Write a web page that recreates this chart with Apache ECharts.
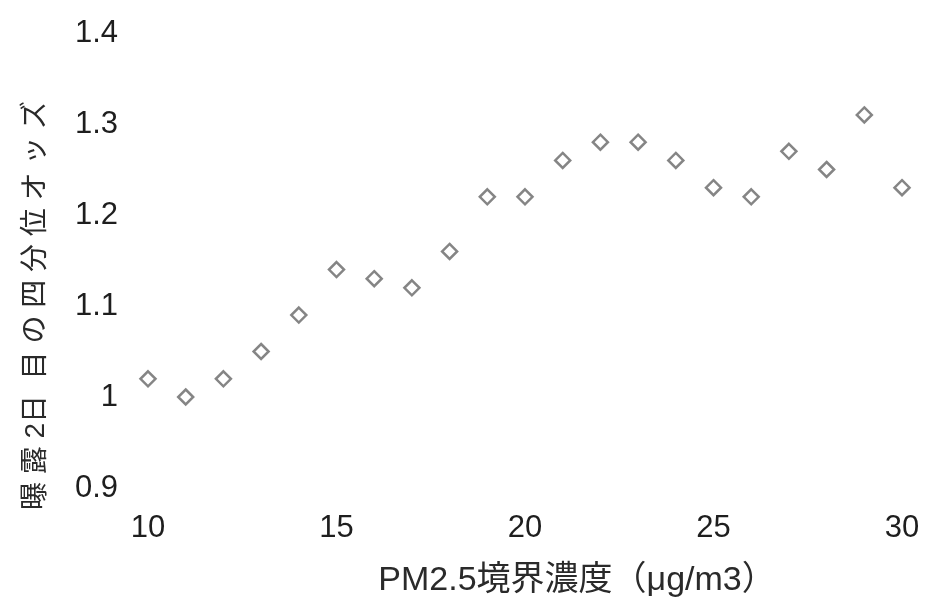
<!DOCTYPE html>
<html><head><meta charset="utf-8">
<script src="https://cdn.jsdelivr.net/npm/echarts@6/dist/echarts.min.js"></script>
<style>html,body{margin:0;padding:0;background:#fff}#c{width:925px;height:605px}</style>
</head><body><div id="c"></div>
<script>
const xValues = [10,11,12,13,14,15,16,17,18,19,20,21,22,23,24,25,26,27,28,29,30];
const oddsValues = [1.02,1.00,1.02,1.05,1.09,1.14,1.13,1.12,1.16,1.22,1.22,1.26,1.28,1.28,1.26,1.23,1.22,1.27,1.25,1.31,1.23];
const xTicks = [10,15,20,25,30];
const yTicks = [0.9,1,1.1,1.2,1.3,1.4];
const xName = 'PM2.5境界濃度（μg/m3）';
const yName = '曝 露 2日  目 の 四 分 位 オ ッ ズ';

const chart = echarts.init(document.getElementById('c'));
const font = "'Liberation Sans','Noto Sans CJK JP',sans-serif";
chart.setOption({
  animation:false,
  backgroundColor:'#fff',
  grid:{left:148,right:23,top:33,bottom:117},
  xAxis:{type:'value',min:10,max:30,interval:5,
    axisLine:{show:false},axisTick:{show:false},splitLine:{show:false},
    axisLabel:{fontSize:31,color:'#1e1e1e',fontFamily:font,margin:25},
    name:xName,nameLocation:'middle',nameGap:76,
    nameTextStyle:{fontSize:34,color:'#2a2a2a',fontFamily:font,padding:[0,0,0,104]}},
  yAxis:{type:'value',min:0.9,max:1.4,interval:0.1,
    axisLine:{show:false},axisTick:{show:false},splitLine:{show:false},
    axisLabel:{fontSize:31,color:'#1e1e1e',fontFamily:font,margin:30,
      formatter:v=>String(Math.round(v*10)/10)},
    name:yName,nameLocation:'middle',nameGap:98,nameRotate:90,
    nameTextStyle:{fontSize:28,color:'#2a2a2a',fontFamily:font,padding:[0,90,0,0]}},
  series:[{type:'scatter',symbol:'diamond',symbolSize:15,
    data:xValues.map((x,i)=>[x,oddsValues[i]]),
    itemStyle:{color:'#fff',borderColor:'#666',borderWidth:2.5}}]
});
</script></body></html>
